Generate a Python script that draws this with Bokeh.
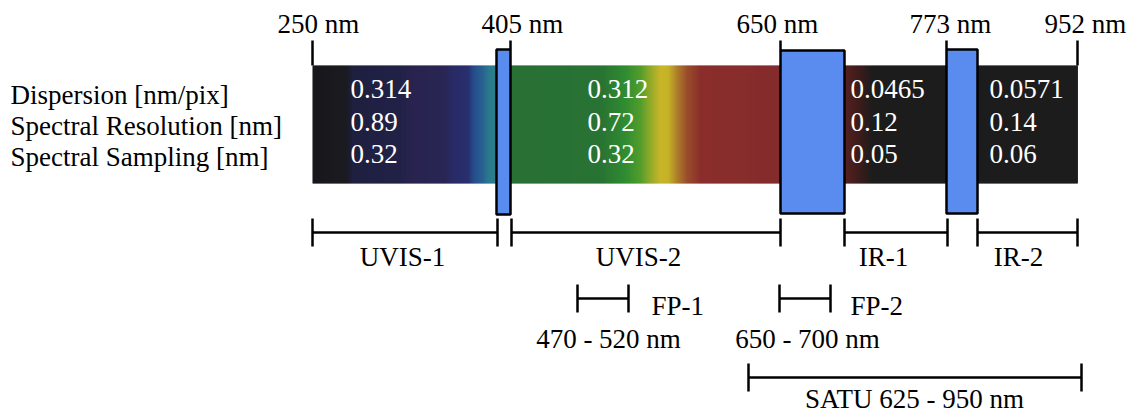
import numpy as np
from bokeh.plotting import figure
from bokeh.models import Range1d
from bokeh.core.properties import value
from bokeh.embed import file_html
from bokeh.resources import INLINE

FONT = "Liberation Serif"
FS = "27px"

# ---- data / labels ----
edge_labels = ["250 nm", "405 nm", "650 nm", "773 nm", "952 nm"]
edge_label_x = [318, 522, 777, 950, 1085]
edge_line_x = [312, 510, 780, 946, 1077]
edge_line_end = [65, 49, 50, 49, 65]

row_labels = ["Dispersion [nm/pix]", "Spectral Resolution [nm]", "Spectral Sampling [nm]"]
row_label_y = [94, 125, 156]

channels = ["UVIS-1", "UVIS-2", "IR-1", "IR-2"]
dispersion = ["0.314", "0.312", "0.0465", "0.0571"]
resolution = ["0.89", "0.72", "0.12", "0.14"]
sampling = ["0.32", "0.32", "0.05", "0.06"]
value_x = [350, 587, 850, 989]
value_y = [88, 121, 153]

channel_left = [312, 511, 844, 977]
channel_right = [497, 780, 947, 1077]
channel_label_x = [402, 638, 883, 1018]

# dichroic boxes
box_left = [496, 780, 946]
box_right = [510, 844, 977]
box_top = [49, 50, 49]
box_bottom = [214, 213, 213]

fp_names = ["FP-1", "FP-2"]
fp_ranges = ["470 - 520 nm", "650 - 700 nm"]
fp_left = [577, 779]
fp_right = [628, 830]
fp_name_x = [651, 850]
fp_range_x = [608, 807]

satu_label = "SATU 625 - 950 nm"
satu_left = 748
satu_right = 1081
satu_label_x = 914

# spectrum colour stops (position, colour)
stop_pos = [312, 346, 352, 400, 412, 445, 452, 468, 473, 482, 488, 497,
            510, 600, 625, 640, 650, 660, 668, 676, 686, 700, 780,
            844, 858, 872, 1077]
stop_col = ["#0d0d10", "#0f0f16", "#141436", "#17173f", "#1d1946", "#1f1b4d",
            "#1d205e", "#1f2568", "#1b4385", "#1e598d", "#1f7488", "#217a80",
            "#1d692b", "#1e6c2a", "#258726", "#4a9822", "#8ea61f", "#c6b21d",
            "#c2ae1c", "#ac7c20", "#964620", "#852420", "#7e2121",
            "#4e1614", "#351110", "#121010", "#111111"]

spec_top, spec_bottom = 65, 183


def hex2rgb(h):
    h = h.lstrip("#")
    return np.array([int(h[i:i + 2], 16) for i in (0, 2, 4)], dtype=float)


stops_rgb = np.array([hex2rgb(c) for c in stop_col])
xs = np.arange(stop_pos[0], stop_pos[-1], 1.0)
r = np.interp(xs + 0.5, stop_pos, stops_rgb[:, 0])
g = np.interp(xs + 0.5, stop_pos, stops_rgb[:, 1])
b = np.interp(xs + 0.5, stop_pos, stops_rgb[:, 2])
cols = ["#%02x%02x%02x" % (int(a), int(bb), int(c)) for a, bb, c in zip(r, g, b)]

p = figure(width=1129, height=414, output_backend="svg", toolbar_location=None,
           x_range=Range1d(0, 1129), y_range=Range1d(414, 0),
           min_border=0, outline_line_color=None)
p.axis.visible = False
p.grid.visible = False
p.background_fill_color = "white"
p.border_fill_color = "white"

TXT = dict(text_font=value(FONT), text_font_size=FS, text_baseline="middle")

# spectrum
p.quad(left=xs, right=xs + 1.4, top=spec_top, bottom=spec_bottom,
       fill_color=cols, line_color=None)

# vertical edge lines
p.segment(x0=edge_line_x, y0=[40] * 5, x1=edge_line_x, y1=edge_line_end,
          line_color="black", line_width=2.5)

# dichroic boxes
p.quad(left=box_left, right=box_right, top=box_top, bottom=box_bottom,
       fill_color="#5a8cf0", line_color="black", line_width=2.5)

# top labels
p.text(x=edge_label_x, y=[23] * 5, text=edge_labels, text_align="center",
       text_color="black", **TXT)

# row labels
p.text(x=[10] * 3, y=row_label_y, text=row_labels, text_align="left",
       text_color="black", **TXT)

# values
for vals, yy in zip([dispersion, resolution, sampling], value_y):
    p.text(x=value_x, y=[yy] * 4, text=vals, text_align="left",
           text_color="white", **TXT)


def bracket(left, right, yc, half):
    left = list(left)
    right = list(right)
    n = len(left)
    p.segment(x0=left, y0=[yc] * n, x1=right, y1=[yc] * n,
              line_color="black", line_width=2.5)
    p.segment(x0=left + right, y0=[yc - half] * (2 * n), x1=left + right,
              y1=[yc + half] * (2 * n), line_color="black", line_width=2.5)


# channel brackets
bracket(channel_left, channel_right, 232, 14)
p.text(x=channel_label_x, y=[256] * 4, text=channels, text_align="center",
       text_color="black", **TXT)

# FP brackets
bracket(fp_left, fp_right, 298, 14)
p.text(x=fp_name_x, y=[305] * 2, text=fp_names, text_align="left",
       text_color="black", **TXT)
p.text(x=fp_range_x, y=[338] * 2, text=fp_ranges, text_align="center",
       text_color="black", **TXT)

# SATU bracket
bracket([satu_left], [satu_right], 377, 14)
p.text(x=[satu_label_x], y=[398], text=[satu_label], text_align="center",
       text_color="black", **TXT)

open("out.html", "w").write(file_html(p, INLINE))
